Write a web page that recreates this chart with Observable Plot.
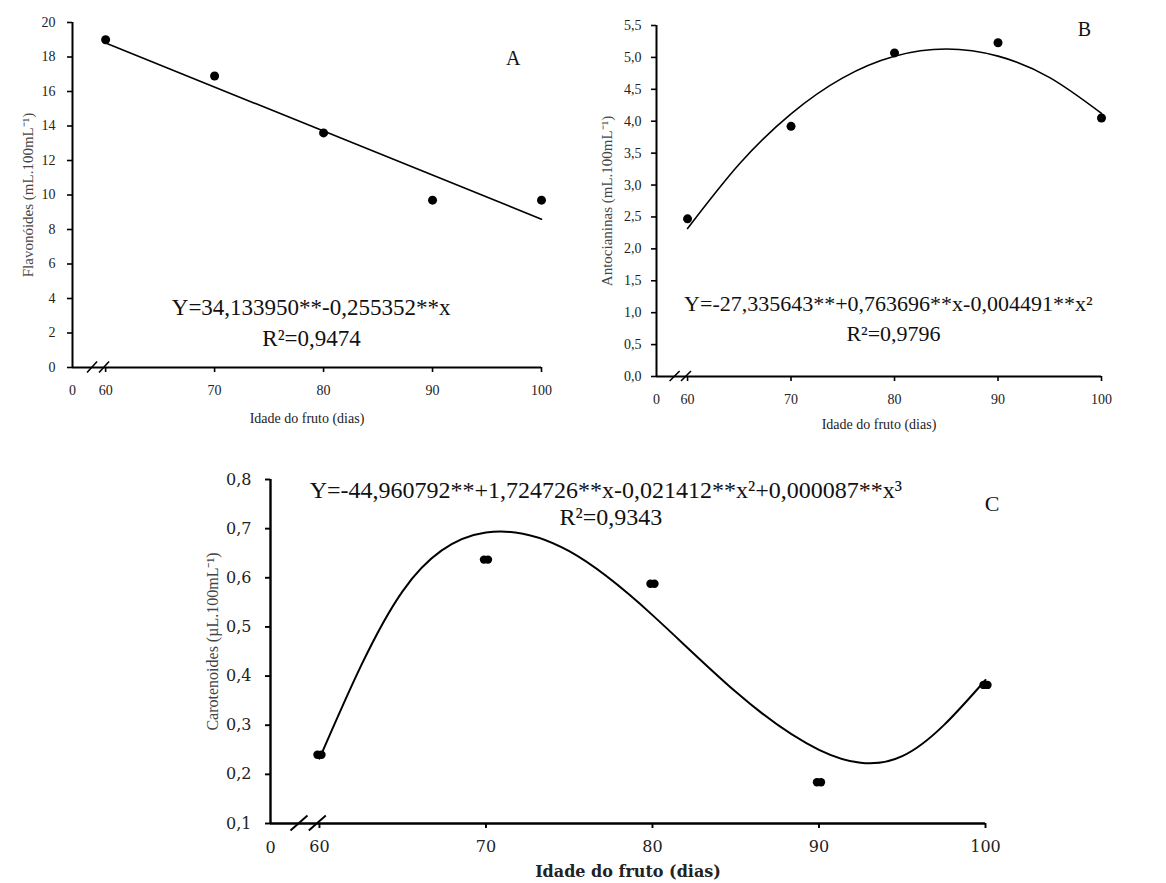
<!DOCTYPE html>
<html><head><meta charset="utf-8">
<script src="https://cdn.jsdelivr.net/npm/d3@7"></script>
<script src="https://cdn.jsdelivr.net/npm/@observablehq/plot@0.6"></script>
<style>
body{margin:0;background:#fff;}
#wrap{position:relative;width:1166px;height:883px;overflow:hidden;background:#fff;}
.panel{position:absolute;}
</style></head><body><div id="wrap"></div>
<script>
// ---- data ----
const days = [60, 70, 80, 90, 100];
const flavonoides = [19.0, 16.9, 13.6, 9.7, 9.7];
const antocianinas = [2.47, 3.92, 5.07, 5.23, 4.05];
const carotenoides = [0.24, 0.637, 0.588, 0.184, 0.382];

// fitted regression curves (values of the printed equations)
const fitDaysA = [60, 100];
const fitFlavonoides = [18.81, 8.60];
const fitDays = [60, 65, 70, 75, 80, 85, 90, 95, 100];
const fitAntocianinas = [2.319, 3.330, 4.117, 4.680, 5.018, 5.131, 5.020, 4.684, 4.124];
const fitCarotenoides = [0.232, 0.573, 0.692, 0.654, 0.524, 0.368, 0.250, 0.237, 0.392];

// tick values / labels
const xTicks = [60, 70, 80, 90, 100];
const xOriginLabel = "0";
const yTicksA = [0, 2, 4, 6, 8, 10, 12, 14, 16, 18, 20];
const yTicksB = [0, 0.5, 1, 1.5, 2, 2.5, 3, 3.5, 4, 4.5, 5, 5.5];
const yTicksC = [0.1, 0.2, 0.3, 0.4, 0.5, 0.6, 0.7, 0.8];
const breakCenters = [58.8, 59.9];

// texts
const xTitle = "Idade do fruto (dias)";
const yTitleA = "Flavonóides (mL.100mL⁻¹)";
const yTitleB = "Antocianinas (mL.100mL⁻¹)";
const yTitleC = "Carotenoides (µL.100mL⁻¹)";
const eqA = "Y=34,133950**-0,255352**x";
const r2A = "R²=0,9474";
const eqB = "Y=-27,335643**+0,763696**x-0,004491**x²";
const r2B = "R²=0,9796";
const eqC = "Y=-44,960792**+1,724726**x-0,021412**x²+0,000087**x³";
const r2C = "R²=0,9343";

const comma1 = d => d.toFixed(1).replace(".", ",");
const pts = (xs, ys) => xs.map((x, i) => ({x, y: ys[i]}));

function breakMark(centers, half, rise, sw) {
  return (index, scales, values, dims) => {
    const g = d3.create("svg:g").attr("stroke", "black").attr("stroke-width", sw);
    const y0 = dims.height - dims.marginBottom;
    for (const c of centers) {
      const cx = scales.x(c);
      g.append("line").attr("x1", cx - half).attr("y1", y0 + rise)
        .attr("x2", cx + half).attr("y2", y0 - rise);
    }
    return g.node();
  };
}

function panel(cfg) {
  const ymin = cfg.yDomain[0];
  const chart = Plot.plot({
    width: cfg.width, height: cfg.height,
    marginLeft: cfg.ml, marginRight: cfg.mr, marginTop: cfg.mt, marginBottom: cfg.mb,
    x: {domain: cfg.xDomain},
    y: {domain: cfg.yDomain},
    style: {fontFamily: cfg.tickFont, fontSize: cfg.tickSize + "px", color: "#222", background: "white", overflow: "visible"},
    marks: [
      Plot.ruleY([ymin], {stroke: "black", strokeWidth: cfg.axisW}),
      Plot.ruleX([cfg.xDomain[0]], {stroke: "black", strokeWidth: cfg.axisW}),
      Plot.axisY(cfg.yTicks, {tickSize: 5, tickPadding: cfg.yPad, tickFormat: cfg.yFormat, label: null, strokeWidth: cfg.axisW * 0.8, stroke: "black"}),
      Plot.axisX(xTicks, {tickSize: 5, tickPadding: cfg.xPad, tickFormat: d => String(d), label: null, strokeWidth: cfg.axisW * 0.8, stroke: "black"}),
      Plot.text([{x: cfg.xDomain[0], y: ymin, t: xOriginLabel}], {x: "x", y: "y", text: "t", dy: cfg.xLabDy, fill: "#222"}),
      breakMark(breakCenters, cfg.brHalf, cfg.brRise, cfg.axisW * 0.8),
      Plot.line(pts(cfg.fitX, cfg.fitY), {x: "x", y: "y", stroke: "black", strokeWidth: cfg.lineW, curve: "natural"}),
      ...cfg.dotMarks(pts(days, cfg.values)),
      Plot.text([xTitle], {frameAnchor: "bottom", lineAnchor: "middle", textAnchor: "middle", dy: cfg.xTitleDy, fontFamily: cfg.xTitleFont, fontSize: cfg.xTitleSize, fill: "#222", fontWeight: cfg.xTitleWeight || "normal"}),
      Plot.text([cfg.yTitle], {frameAnchor: "left", textAnchor: "middle", lineAnchor: "middle", rotate: -90, dx: cfg.yTitleDx, dy: cfg.yTitleDy || 0, fontFamily: "Liberation Serif", fontSize: cfg.yTitleSize, fill: "#444"}),
      Plot.text([{x: cfg.eqX, y: cfg.eqY, t: cfg.eq}, {x: cfg.r2X, y: cfg.r2Y, t: cfg.r2}], {x: "x", y: "y", text: "t", fontFamily: "Liberation Serif", fontSize: cfg.eqSize, fill: "#111"}),
      Plot.text([{x: cfg.letX, y: cfg.letY, t: cfg.letter}], {x: "x", y: "y", text: "t", fontFamily: "Liberation Serif", fontSize: cfg.letSize, fill: "#111"})
    ]
  });
  chart.classList.add("panel");
  chart.style.left = cfg.left + "px";
  chart.style.top = cfg.top + "px";
  document.getElementById("wrap").appendChild(chart);
}

const simpleDots = r => data => [Plot.dot(data, {x: "x", y: "y", r, fill: "black", stroke: "none"})];
const pillDots = r => data => [
  Plot.dot(data, {x: "x", y: "y", r, fill: "black", stroke: "none", dx: -2}),
  Plot.dot(data, {x: "x", y: "y", r, fill: "black", stroke: "none", dx: 2})
];

// Panel A
panel({
  left: 0, top: 0, width: 565, height: 430, ml: 72, mr: 24, mt: 22, mb: 63,
  xDomain: [56.96, 100], yDomain: [0, 20], yTicks: yTicksA, yFormat: d => String(d),
  tickFont: "Liberation Serif", tickSize: 14, yPad: 12, xPad: 13, xLabDy: 23, axisW: 2,
  brHalf: 5, brRise: 5.5, lineW: 1.6,
  fitX: fitDaysA, fitY: fitFlavonoides, values: flavonoides, dotMarks: simpleDots(4.5),
  xTitleDy: 51, xTitleFont: "Liberation Serif", xTitleSize: 14,
  yTitle: yTitleA, yTitleDx: -44, yTitleSize: 15,
  eq: eqA, r2: r2A, eqX: 78.86, eqY: 3.48, r2X: 78.9, r2Y: 1.68, eqSize: 23,
  letter: "A", letX: 97.4, letY: 17.9, letSize: 20
});

// Panel B
panel({
  left: 590, top: 0, width: 576, height: 435, ml: 66, mr: 65, mt: 25, mb: 59,
  xDomain: [57.0, 100], yDomain: [0, 5.5], yTicks: yTicksB, yFormat: comma1,
  tickFont: "Liberation Serif", tickSize: 14, yPad: 10, xPad: 13, xLabDy: 23, axisW: 2,
  brHalf: 5, brRise: 5, lineW: 1.6,
  fitX: fitDays, fitY: fitAntocianinas, values: antocianinas, dotMarks: simpleDots(4.5),
  xTitleDy: 48, xTitleFont: "Liberation Serif", xTitleSize: 14,
  yTitle: yTitleB, yTitleDx: -49, yTitleSize: 15,
  eq: eqB, r2: r2B, eqX: 79.4, eqY: 1.14, r2X: 79.9, r2Y: 0.67, eqSize: 22,
  letter: "B", letX: 98.35, letY: 5.44, letSize: 20
});

// Panel C
panel({
  left: 190, top: 440, width: 830, height: 443, ml: 80, mr: 35, mt: 39, mb: 60,
  xDomain: [57.06, 100], yDomain: [0.1, 0.8], yTicks: yTicksC, yFormat: comma1,
  tickFont: "DejaVu Serif", tickSize: 16, yPad: 14, xPad: 12, xLabDy: 24, axisW: 2.4,
  brHalf: 8.5, brRise: 7.5, lineW: 2,
  fitX: fitDays, fitY: fitCarotenoides, values: carotenoides, dotMarks: pillDots(4.2),
  xTitleDy: 48, xTitleFont: "DejaVu Serif", xTitleSize: 16, xTitleWeight: "bold",
  yTitle: yTitleC, yTitleDx: -58, yTitleDy: -10, yTitleSize: 16,
  eq: eqC, r2: r2C, eqX: 77.2, eqY: 0.778, r2X: 77.5, r2Y: 0.723, eqSize: 24,
  letter: "C", letX: 100.4, letY: 0.751, letSize: 22
});
</script>
</body></html>
